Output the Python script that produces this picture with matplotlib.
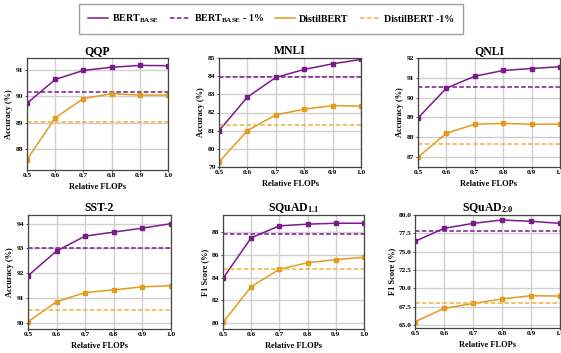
import numpy as np
import matplotlib.pyplot as plt
from matplotlib.lines import Line2D

plt.rcParams["font.family"] = ["Liberation Serif", "DejaVu Serif"]
plt.rcParams["font.weight"] = "bold"
plt.rcParams["mathtext.fontset"] = "custom"
plt.rcParams["mathtext.rm"] = "Liberation Serif:bold"
plt.rcParams["mathtext.bf"] = "Liberation Serif:bold"
plt.rcParams["mathtext.it"] = "Liberation Serif:bold"

# ---------------------------------------------------------------------------
# Data
# ---------------------------------------------------------------------------
flops = [0.5, 0.6, 0.7, 0.8, 0.9, 1.0]

qqp_bert = [89.74, 90.64, 90.98, 91.10, 91.17, 91.16]
qqp_distil = [87.61, 89.19, 89.92, 90.10, 90.05, 90.05]
qqp_ref = (90.15, 89.02)

mnli_bert = [81.0, 82.85, 83.93, 84.37, 84.68, 84.92]
mnli_distil = [79.28, 81.0, 81.87, 82.18, 82.38, 82.35]
mnli_ref = (83.98, 81.33)

qnli_bert = [88.97, 90.48, 91.08, 91.37, 91.47, 91.56]
qnli_distil = [87.0, 88.2, 88.66, 88.7, 88.66, 88.66]
qnli_ref = (90.56, 87.65)

sst2_bert = [91.9, 92.9, 93.5, 93.66, 93.82, 94.0]
sst2_distil = [90.04, 90.85, 91.22, 91.33, 91.45, 91.5]
sst2_ref = (93.0, 90.51)

squad11_bert = [83.94, 87.53, 88.59, 88.74, 88.82, 88.82]
squad11_distil = [80.03, 83.2, 84.74, 85.32, 85.6, 85.8]
squad11_ref = (87.85, 84.8)

squad20_bert = [76.41, 78.18, 78.86, 79.32, 79.14, 78.86]
squad20_distil = [65.45, 67.27, 67.95, 68.55, 69.0, 68.95]
squad20_ref = (77.86, 67.95)

legend_labels = [r"BERT$_{\mathrm{BASE}}$", r"BERT$_{\mathrm{BASE}}$ - 1%",
                 "DistilBERT", "DistilBERT -1%"]

PURPLE = "#7b1a8b"
ORANGE = "#e39b1c"
ORANGE_DASH = "#efb040"
DASH = (0, (3, 1.5))

# (title, bert, distil, refs, ylabel, ylim, yticks, tick fmt, axes rect in px)
panels = [
    ("QQP", qqp_bert, qqp_distil, qqp_ref, "Accuracy (%)", (87.22, 91.45),
     [88, 89, 90, 91], "{:.0f}", (27, 58, 168, 170)),
    ("MNLI", mnli_bert, mnli_distil, mnli_ref, "Accuracy (%)", (79, 85),
     [79, 80, 81, 82, 83, 84, 85], "{:.0f}", (219, 58, 361, 167)),
    ("QNLI", qnli_bert, qnli_distil, qnli_ref, "Accuracy (%)", (86.5, 92),
     [87, 88, 89, 90, 91, 92], "{:.0f}", (418, 58, 560, 167)),
    ("SST-2", sst2_bert, sst2_distil, sst2_ref, "Accuracy (%)", (89.75, 94.35),
     [90, 91, 92, 93, 94], "{:.0f}", (28, 215, 171, 329)),
    (r"SQuAD$_{1.1}$", squad11_bert, squad11_distil, squad11_ref, "F1 Score (%)",
     (79.45, 89.55), [80, 82, 84, 86, 88], "{:.0f}", (223, 215, 364, 329)),
    (r"SQuAD$_{2.0}$", squad20_bert, squad20_distil, squad20_ref, "F1 Score (%)",
     (64.6, 80.0), [65.0, 67.5, 70.0, 72.5, 75.0, 77.5, 80.0], "{:.1f}",
     (415, 215, 560, 328)),
]

W, H = 561, 353
fig = plt.figure(figsize=(W / 100, H / 100), dpi=100)

for title, bert, distil, refs, ylabel, ylim, yticks, fmt, (x0, y0, x1, y1) in panels:
    ax = fig.add_axes([x0 / W, 1 - y1 / H, (x1 - x0) / W, (y1 - y0) / H])
    ax.plot(flops, bert, color=PURPLE, lw=1.1, marker="s", ms=2.2)
    ax.axhline(refs[0], color=PURPLE, lw=1.1, ls=DASH)
    ax.plot(flops, distil, color=ORANGE, lw=1.1, marker="s", ms=2.2)
    ax.axhline(refs[1], color=ORANGE_DASH, lw=1.1, ls=DASH)
    ax.set_xlim(0.5, 1.0)
    ax.set_ylim(*ylim)
    ax.set_xticks(flops)
    ax.set_xticklabels([f"{v:.1f}" for v in flops])
    ax.set_yticks(yticks)
    ax.set_yticklabels([fmt.format(v) for v in yticks])
    ax.tick_params(labelsize=5.3, length=1.5, width=0.5, pad=1)
    ax.grid(True, color="#d0d0d0", lw=1.0)
    ax.set_axisbelow(True)
    for sp in ax.spines.values():
        sp.set_color("#444444")
        sp.set_linewidth(0.9)
    ax.set_title(title, fontsize=8.5, fontweight="bold", pad=3)
    ax.set_xlabel("Relative FLOPs", fontsize=6, fontweight="bold", labelpad=3)
    ax.set_ylabel(ylabel, fontsize=6, fontweight="bold", labelpad=2)

handles = [
    Line2D([], [], color=PURPLE, lw=1.1),
    Line2D([], [], color=PURPLE, lw=1.1, ls=DASH),
    Line2D([], [], color=ORANGE, lw=1.1),
    Line2D([], [], color=ORANGE_DASH, lw=1.1, ls=DASH),
]
fig.legend(handles, legend_labels, loc="center", bbox_to_anchor=(271 / W, 1 - 19 / H),
           ncol=4, fontsize=7.2, frameon=True, fancybox=False, edgecolor="#888888",
           handlelength=2.0, columnspacing=1.1, borderpad=0.9, handletextpad=0.4)

fig.savefig("out.png", dpi=100)
